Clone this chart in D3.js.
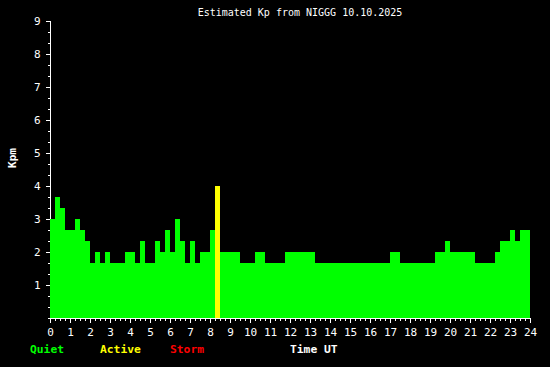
<!DOCTYPE html>
<html>
<head>
<meta charset="utf-8">
<script src="https://cdn.jsdelivr.net/npm/d3@7"></script>
<style>
html,body{margin:0;padding:0;background:#000;}
svg{display:block;}
text{font-family:"DejaVu Sans Mono",monospace;}
</style>
</head>
<body>
<script>
// 15-minute estimated Kp values (thirds), 96 intervals over 24 h UT
const kpValues = [
  3, 3.667, 3.333, 2.667, 2.667, 3, 2.667, 2.333,
  1.667, 2, 1.667, 2, 1.667, 1.667, 1.667, 2,
  2, 1.667, 2.333, 1.667, 1.667, 2.333, 2, 2.667,
  2, 3, 2.333, 1.667, 2.333, 1.667, 2, 2,
  2.667, 4, 2, 2, 2, 2, 1.667, 1.667,
  1.667, 2, 2, 1.667, 1.667, 1.667, 1.667, 2,
  2, 2, 2, 2, 2, 1.667, 1.667, 1.667,
  1.667, 1.667, 1.667, 1.667, 1.667, 1.667, 1.667, 1.667,
  1.667, 1.667, 1.667, 1.667, 2, 2, 1.667, 1.667,
  1.667, 1.667, 1.667, 1.667, 1.667, 2, 2, 2.333,
  2, 2, 2, 2, 2, 1.667, 1.667, 1.667,
  1.667, 2, 2.333, 2.333, 2.667, 2.333, 2.667, 2.667
];
const binHours = 0.25;
const xMajorTicks = d3.range(0, 25, 1);
const xMinorTicks = d3.range(0, 24.001, 0.25);
const yMajorTicks = [1, 2, 3, 4, 5, 6, 7, 8, 9];
const yMinorTicks = d3.range(0, 27).map(d => d / 3);
const legendLabels = ["Quiet", "Active", "Storm"];
const legendColors = ["#00ff00", "#ffff00", "#ff0000"];
const titleText = "Estimated Kp from NIGGG 10.10.2025";

const W = 550, H = 367;
const svg = d3.select("body").append("svg").attr("width", W).attr("height", H)
  .style("background", "#000");

const x = d3.scaleLinear().domain([0, 24]).range([50, 530]);
const y = d3.scaleLinear().domain([0, 9]).range([317.7, 20.7]);

function color(v) {
  if (v >= 5) return legendColors[2];
  if (v >= 4) return legendColors[1];
  return legendColors[0];
}

// y axis line + ticks
const yMinor = d3.axisLeft(y).tickValues(yMinorTicks).tickSize(3).tickFormat("");
const yMajor = d3.axisLeft(y).tickValues(yMajorTicks).tickSize(5).tickPadding(5);
const gyMin = svg.append("g").attr("transform", "translate(50.5,0)").call(yMinor);
const gy = svg.append("g").attr("transform", "translate(50.5,0)").call(yMajor);
[gyMin, gy].forEach(g => {
  g.selectAll("path").attr("stroke", "#fff").attr("shape-rendering", "crispEdges");
  g.selectAll("line").attr("stroke", "#fff").attr("shape-rendering", "crispEdges");
});
gyMin.select(".domain").attr("d", `M0,${y(9)}V${y(0) + 5}`);
gy.select(".domain").remove();
gy.selectAll("text").attr("fill", "#fff").style("font-size", "11px")
  .style("font-family", "'DejaVu Sans Mono',monospace");

// bars
svg.append("g").selectAll("rect").data(kpValues).join("rect")
  .attr("x", (d, i) => x(i * binHours))
  .attr("width", (d, i) => x((i + 1) * binHours) - x(i * binHours))
  .attr("y", d => y(d))
  .attr("height", d => y(0) - y(d))
  .attr("fill", d => color(d))
  .attr("shape-rendering", "crispEdges");

// x axis
const xMinor = d3.axisBottom(x).tickValues(xMinorTicks).tickSize(3).tickFormat("");
const xMajor = d3.axisBottom(x).tickValues(xMajorTicks).tickSize(5).tickPadding(5);
const gxMin = svg.append("g").attr("transform", "translate(0,318)").call(xMinor);
const gx = svg.append("g").attr("transform", "translate(0,318)").call(xMajor);
[gxMin, gx].forEach(g => {
  g.selectAll("path").attr("stroke", "#fff").attr("shape-rendering", "crispEdges");
  g.selectAll("line").attr("stroke", "#fff").attr("shape-rendering", "crispEdges");
});
gxMin.select(".domain").attr("d", `M${x(0)},0.5H${x(24)}`);
gx.select(".domain").remove();
gx.selectAll("text").attr("fill", "#fff").style("font-size", "11px")
  .style("font-family", "'DejaVu Sans Mono',monospace");

// title
svg.append("text").attr("x", 300).attr("y", 16).attr("text-anchor", "middle")
  .attr("fill", "#fff").style("font-size", "10px").text(titleText);

// y label
svg.append("text").attr("transform", "translate(16,158) rotate(-90)")
  .attr("text-anchor", "middle").attr("fill", "#fff")
  .style("font-size", "11px").style("font-weight", "bold").text("Kpm");

// legend
const legendX = [30, 100, 170];
svg.append("g").selectAll("text").data(legendLabels).join("text")
  .attr("x", (d, i) => legendX[i]).attr("y", 353)
  .attr("fill", (d, i) => legendColors[i])
  .style("font-size", "11.3px").style("font-weight", "bold").text(d => d);

svg.append("text").attr("x", 290).attr("y", 353).attr("fill", "#fff")
  .style("font-size", "11.3px").style("font-weight", "bold").text("Time UT");
</script>
</body>
</html>
